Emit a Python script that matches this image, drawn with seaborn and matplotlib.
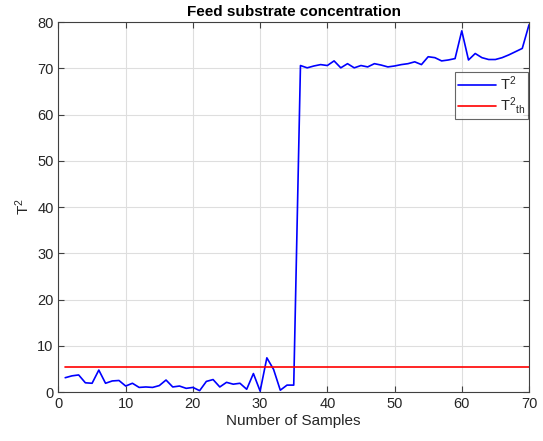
import numpy as np
import pandas as pd
import matplotlib
matplotlib.use("Agg")
import matplotlib.pyplot as plt
import seaborn as sns

# Hotelling T^2 statistic per sample and its control limit
samples = list(range(1, 71))
t2 = [3.1, 3.5, 3.7, 2.0, 1.9, 4.75, 1.9, 2.4, 2.5, 1.3,
      1.9, 1.0, 1.1, 1.0, 1.4, 2.6, 1.1, 1.3, 0.8, 1.0,
      0.3, 2.3, 2.7, 1.1, 2.1, 1.7, 1.9, 0.6, 4.0, 0.2,
      7.4, 4.9, 0.4, 1.5, 1.5, 70.6, 70.1, 70.5, 70.8, 70.6,
      71.6, 70.1, 71.0, 70.1, 70.6, 70.3, 71.0, 70.7, 70.3, 70.5,
      70.8, 71.0, 71.4, 70.8, 72.5, 72.3, 71.6, 71.8, 72.1, 78.1,
      71.8, 73.2, 72.3, 71.9, 71.9, 72.3, 72.9, 73.6, 74.3, 79.4]
t2_threshold = 5.4

xticks = [0, 10, 20, 30, 40, 50, 60, 70]
yticks = [0, 10, 20, 30, 40, 50, 60, 70, 80]

df = pd.DataFrame({"sample": samples, "T2": t2,
                   "limit": [t2_threshold] * len(samples)})

sns.set_style("white")
plt.rcParams["font.family"] = ["Liberation Sans", "DejaVu Sans"]
plt.rcParams["mathtext.fontset"] = "custom"
plt.rcParams["mathtext.rm"] = "Liberation Sans"
plt.rcParams["mathtext.it"] = "Liberation Sans"

fig = plt.figure(figsize=(5.43, 4.41), dpi=100)
ax = fig.add_axes([0.1077, 0.111, 0.8665, 0.839])

sns.lineplot(data=df, x="sample", y="T2", color="#0000ff", lw=1.2,
             label="T$^2$", ax=ax)
sns.lineplot(data=df, x="sample", y="limit", color="#ff0000", lw=1.2,
             label="T$^2$$_{\\mathregular{th}}$", ax=ax)

ax.set_xlim(0, 70)
ax.set_ylim(0, 80)
ax.set_xticks(xticks)
ax.set_yticks(yticks)
ax.grid(True, color="#dedede", lw=0.8)
ax.set_axisbelow(True)

axis_color = "#262626"
for s in ax.spines.values():
    s.set_color("#404040")
    s.set_linewidth(0.8)
ax.tick_params(direction="in", length=4, width=0.8, colors="#404040",
               labelcolor=axis_color, labelsize=10.5,
               top=True, right=True, bottom=True, left=True)

ax.set_title("Feed substrate concentration", fontsize=11,
             fontweight="bold", pad=4, color="black")
ax.set_xlabel("Number of Samples", fontsize=11, color=axis_color, labelpad=2)
ax.set_ylabel("T$^2$", fontsize=11, color=axis_color, labelpad=4)

leg = ax.legend(loc="upper right", bbox_to_anchor=(0.998, 0.866),
                fontsize=10.5, frameon=True, fancybox=False,
                handlelength=2.6, borderaxespad=0, borderpad=0.2,
                labelspacing=0.15, handletextpad=0.3)
leg.get_frame().set_edgecolor("#404040")
leg.get_frame().set_linewidth(0.8)
for t in leg.get_texts():
    t.set_color(axis_color)

fig.savefig("out.png", dpi=100)
